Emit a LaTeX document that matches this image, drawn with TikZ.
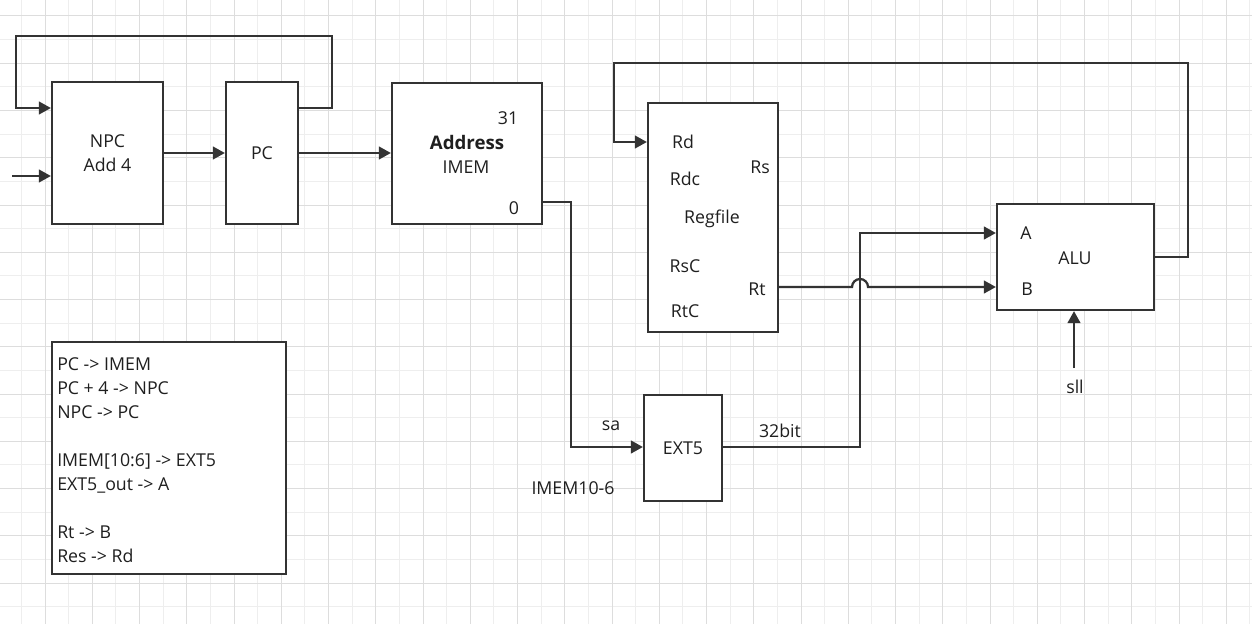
\documentclass[tikz,border=0pt]{standalone}
\usepackage{fontspec}
\setmainfont{Open Sans}[BoldFont={Open Sans Bold}]
\usetikzlibrary{arrows.meta}
\definecolor{ink}{HTML}{333333}
\definecolor{txt}{HTML}{1F1F1F}
\definecolor{gridmajor}{HTML}{DDDDDD}
\definecolor{gridminor}{HTML}{EEEEEE}

\begin{document}
\begin{tikzpicture}[x=0.75pt,y=-0.75pt,
  box/.style={draw=ink, line width=1.7pt, fill=white, rectangle, inner sep=0pt,
    text=txt, font=\fontsize{13.3}{18}\selectfont, align=center},
  wire/.style={draw=ink, line width=1.7pt},
  arr/.style={wire, -{Triangle[length=9pt,width=9.5pt]}},
  lbl/.style={text=txt, font=\fontsize{13.3}{15}\selectfont, inner sep=0pt},
]
\useasboundingbox (0,0) rectangle (1252,624);
\fill[white] (0,0) rectangle (1252,624);

% background grid: minor and major lines alternate
\foreach \m in {0,...,26} {
  \draw[gridminor, line width=0.75pt] ({21.4+47.25*\m},0) -- ({21.4+47.25*\m},624);
}
\foreach \m in {0,...,13} {
  \draw[gridminor, line width=0.75pt] (0,{39.6+47.25*\m}) -- (1252,{39.6+47.25*\m});
}
\foreach \m in {-1,...,25} {
  \draw[gridmajor, line width=0.75pt] ({45+47.25*\m},0) -- ({45+47.25*\m},624);
}
\foreach \m in {0,...,13} {
  \draw[gridmajor, line width=0.75pt] (0,{16+47.25*\m}) -- (1252,{16+47.25*\m});
}

% blocks
\node[box, minimum width=83.25pt, minimum height=106.5pt] (npc) at (107.5,153) {NPC\\Add 4};
\node[box, minimum width=54pt, minimum height=106.5pt] (pc) at (262,153) {PC};
\node[box, minimum width=112.5pt, minimum height=105.75pt] (imem) at (467,153.5) {};
\node[box, minimum width=97.5pt, minimum height=171.75pt] (regfile) at (713,217.5) {};
\node[box, minimum width=117.75pt, minimum height=79.5pt] (alu) at (1075.5,257) {};
\node[box, minimum width=58.5pt, minimum height=79.5pt] (ext5) at (683,448) {EXT5};
\node[box, minimum width=175.5pt, minimum height=174pt] (legend) at (169,458) {};

% labels inside the instruction memory
\node[lbl] (imem31) at (508,118) {31};
\node[lbl, font=\bfseries\fontsize{14}{16}\selectfont] (imemaddr) at (467,143) {Address};
\node[lbl] (imemname) at (466,167) {IMEM};
\node[lbl] (imem0) at (514,208) {0};

% labels inside the register file
\node[lbl] (rfrd) at (683,142) {Rd};
\node[lbl] (rfrs) at (760,167) {Rs};
\node[lbl] (rfrdc) at (685,179) {Rdc};
\node[lbl] (rfname) at (712,219) {Regfile};
\node[lbl] (rfrsc) at (685,266) {RsC};
\node[lbl] (rfrt) at (757,289) {Rt};
\node[lbl] (rfrtc) at (685,311) {RtC};

% labels inside the ALU
\node[lbl] (alua) at (1026,233) {A};
\node[lbl] (aluname) at (1075,258) {ALU};
\node[lbl] (alub) at (1027,289) {B};

% free labels
\node[lbl] (sa) at (611,426) {sa};
\node[lbl] (bits) at (780,431) {32bit};
\node[lbl] (field) at (573,488) {IMEM10-6};
\node[lbl] (sll) at (1075,387) {sll};

% summary of the data paths
\node[lbl, anchor=west, align=left, font=\fontsize{13.3}{18}\selectfont] (summary) at (57,460)
  {PC -> IMEM\\
   PC + 4 -> NPC\\
   NPC -> PC\\[18pt]
   IMEM[10:6] -> EXT5\\
   EXT5\_out -> A\\[18pt]
   Rt -> B\\
   Res -> Rd};

% connectors
\coordinate (pcin) at (12,176);
\coordinate (sllin) at (1074,368);

\draw[arr] (pcin) -- (npc.west |- pcin);
\draw[arr] (npc.east) -- (pc.west);
\draw[arr] (pc.east) -- (imem.west |- pc.east);
\draw[arr] (pc.east |- 0,108) -- (332,108) -- (332,36) -- (16,36) -- (16,108) -- (npc.west |- 0,108);

\draw[arr] (imem.east |- 0,202) -- (571,202) -- (571,447) -- (ext5.west |- 0,447);
\draw[arr] (ext5.east |- 0,447) -- (860,447) -- (860,233) -- (alu.west |- 0,233);
\draw[arr] (regfile.east |- 0,287) -- (852,287)
  arc[start angle=180, end angle=0, radius=6pt] -- (alu.west |- 0,287);
\draw[arr] (alu.east) -- (1188,257) -- (1188,63) -- (614,63) -- (614,142) -- (regfile.west |- 0,142);
\draw[arr] (sllin) -- (sllin |- alu.south);
\end{tikzpicture}
\end{document}
